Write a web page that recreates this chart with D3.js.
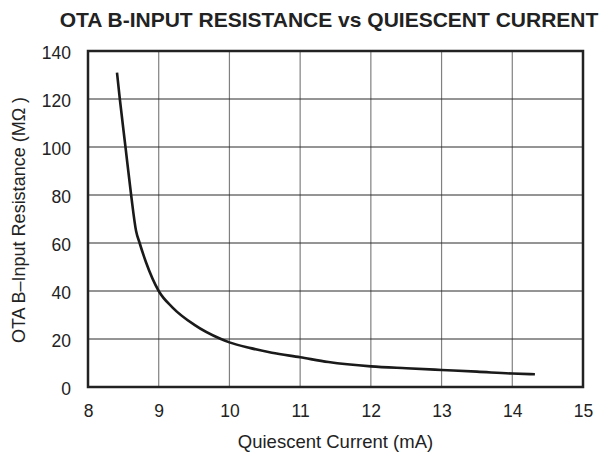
<!DOCTYPE html>
<html><head><meta charset="utf-8">
<script src="https://cdn.jsdelivr.net/npm/d3@7"></script>
<style>body{margin:0;background:#fff}svg{display:block}text{font-family:"Liberation Sans",Arial,sans-serif;fill:#222}</style>
</head><body>
<svg id="c" width="608" height="454"></svg>
<script>
const current = [8.41,8.45,8.53,8.61,8.68,8.73,8.82,9.0,9.2,9.5,9.88,10.0,10.3,10.6,11.0,11.4,12.0,12.5,13.0,13.5,14.0,14.32];
const resistance = [131,120,100,80,65,60,52,40,33,26,20,18.6,16.2,14.3,12.4,10.4,8.6,7.8,7.1,6.4,5.6,5.3];
const xTicks = [8,9,10,11,12,13,14,15];
const yTicks = [0,20,40,60,80,100,120,140];
const title = "OTA B-INPUT RESISTANCE vs QUIESCENT CURRENT";
const xLabel = "Quiescent Current (mA)";
const yLabel = "OTA B\u2013Input Resistance (M\u03A9 )";

const svg = d3.select("#c");
const L=88,R=583,T=51,B=387;
const x = d3.scaleLinear().domain([8,15]).range([L,R]);
const y = d3.scaleLinear().domain([0,140]).range([B,T]);

// grid
svg.append("g").selectAll("line").data(xTicks.slice(1,-1)).join("line")
  .attr("x1",d=>x(d)).attr("x2",d=>x(d)).attr("y1",T).attr("y2",B)
  .attr("stroke","#808080").attr("stroke-width",1.2);
svg.append("g").selectAll("line").data(yTicks.slice(1,-1)).join("line")
  .attr("x1",L).attr("x2",R).attr("y1",d=>y(d)).attr("y2",d=>y(d))
  .attr("stroke","#2a2a2a").attr("stroke-width",1);

const ff = "Liberation Sans, Arial, sans-serif";
const xa = svg.append("g").attr("transform",`translate(0,${B})`)
  .call(d3.axisBottom(x).tickValues(xTicks).tickSize(0).tickPadding(18).tickFormat(d3.format("d")));
xa.select(".domain").remove();
xa.selectAll("text").attr("font-size",17.5).attr("fill","#222").style("font-family",ff);
const ya = svg.append("g").attr("transform",`translate(${L},0)`)
  .call(d3.axisLeft(y).tickValues(yTicks).tickSize(0).tickPadding(17).tickFormat(d3.format("d")));
ya.select(".domain").remove();
ya.selectAll("text").attr("font-size",17.5).attr("fill","#222").style("font-family",ff).attr("dy","0.42em");

// curve
svg.append("path").datum(current.map((c,i)=>[c,resistance[i]]))
  .attr("d",d3.line().x(d=>x(d[0])).y(d=>y(d[1])).curve(d3.curveMonotoneX))
  .attr("fill","none").attr("stroke","#1a1a1a").attr("stroke-width",2.6);

// frame
svg.append("rect").attr("x",L).attr("y",T).attr("width",R-L).attr("height",B-T)
  .attr("fill","none").attr("stroke","#222").attr("stroke-width",2.5);

svg.append("text").attr("x",329).attr("y",26.5).attr("text-anchor","middle")
  .attr("font-size",21).attr("font-weight","bold").attr("fill","#111").text(title);
svg.append("text").attr("x",335.5).attr("y",448).attr("text-anchor","middle")
  .attr("font-size",18.5).text(xLabel);
svg.append("text").attr("transform","translate(25,220) rotate(-90)").attr("text-anchor","middle")
  .attr("font-size",18).text(yLabel);
</script>
</body></html>
